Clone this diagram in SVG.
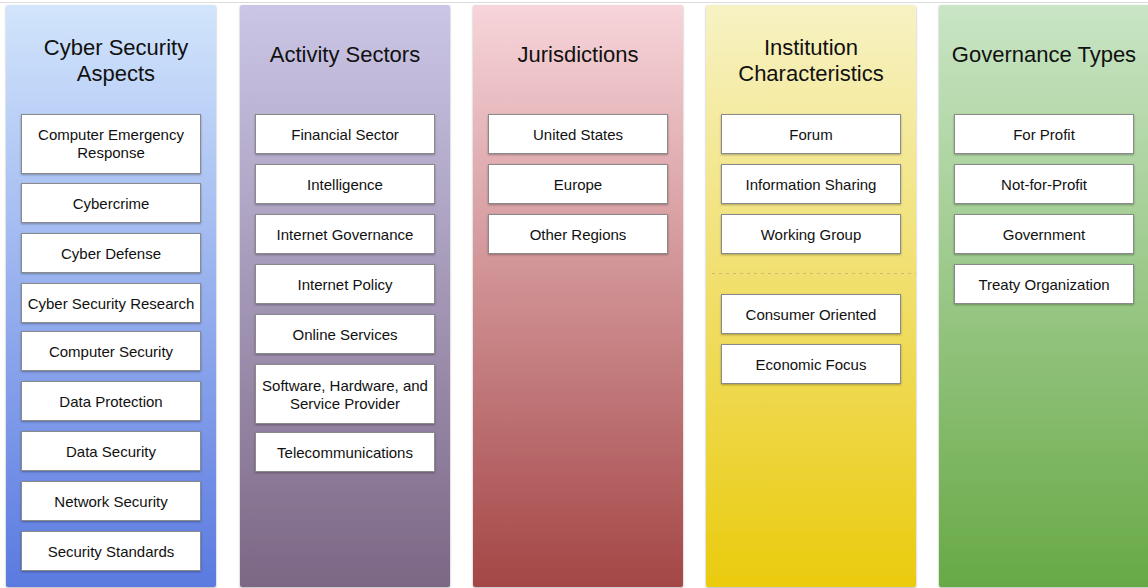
<svg xmlns="http://www.w3.org/2000/svg" width="1148" height="588" viewBox="0 0 1148 588">
  <defs>
    <linearGradient id="gBlue" x1="0" y1="0" x2="0" y2="1">
      <stop offset="0" stop-color="#d2e5fc"/>
      <stop offset="1" stop-color="#5a7ae0"/>
    </linearGradient>
    <linearGradient id="gPurple" x1="0" y1="0" x2="0" y2="1">
      <stop offset="0" stop-color="#cbc6e6"/>
      <stop offset="1" stop-color="#7c6785"/>
    </linearGradient>
    <linearGradient id="gRed" x1="0" y1="0" x2="0" y2="1">
      <stop offset="0" stop-color="#f7d5da"/>
      <stop offset="1" stop-color="#a44646"/>
    </linearGradient>
    <linearGradient id="gYellow" x1="0" y1="0" x2="0" y2="1">
      <stop offset="0" stop-color="#f7f2c4"/>
      <stop offset="1" stop-color="#eacb0e"/>
    </linearGradient>
    <linearGradient id="gGreen" x1="0" y1="0" x2="0" y2="1">
      <stop offset="0" stop-color="#c9e5c5"/>
      <stop offset="1" stop-color="#68a946"/>
    </linearGradient>
    <filter id="shadow" x="-5%" y="-5%" width="110%" height="120%">
      <feDropShadow dx="0" dy="1" stdDeviation="0.8" flood-color="#000" flood-opacity="0.3"/>
    </filter>
  </defs>
  <style>
    .lane { stroke: none; filter: url(#shadow); }
    .title { font-family: "Liberation Sans", Arial, sans-serif; font-size: 22px; fill: #111; text-anchor: middle; }
    .box { fill: #fff; stroke: #8a8a8a; stroke-width: 1; filter: url(#shadow); }
    .label { font-family: "Liberation Sans", Arial, sans-serif; font-size: 15px; fill: #111; text-anchor: middle; dominant-baseline: central; }
    .divider { stroke: #c9bb78; stroke-width: 1.2; stroke-dasharray: 3 4; fill: none; }
  </style>

  <rect x="0" y="0" width="1148" height="588" fill="#fff"/>
  <line x1="0" y1="2.5" x2="1148" y2="2.5" stroke="#dcdcdc" stroke-width="1"/>

  <!-- Lane: Cyber Security Aspects -->
  <g id="lane-cyber-security-aspects">
    <rect class="lane" x="6" y="5" width="210" height="582" rx="2" fill="url(#gBlue)"/>
    <text class="title" x="116" y="55">Cyber Security</text>
    <text class="title" x="116" y="81">Aspects</text>
  </g>
  <g id="node-computer-emergency-response">
    <rect class="box" x="21.5" y="114.5" width="179" height="59"/>
    <text class="label" x="111" y="134">Computer Emergency</text>
    <text class="label" x="111" y="152">Response</text>
  </g>
  <g id="node-cybercrime">
    <rect class="box" x="21.5" y="183.5" width="179" height="39"/>
    <text class="label" x="111" y="203">Cybercrime</text>
  </g>
  <g id="node-cyber-defense">
    <rect class="box" x="21.5" y="233.5" width="179" height="39"/>
    <text class="label" x="111" y="253">Cyber Defense</text>
  </g>
  <g id="node-cyber-security-research">
    <rect class="box" x="21.5" y="283.5" width="179" height="39"/>
    <text class="label" x="111" y="303">Cyber Security Research</text>
  </g>
  <g id="node-computer-security">
    <rect class="box" x="21.5" y="331.5" width="179" height="39"/>
    <text class="label" x="111" y="351">Computer Security</text>
  </g>
  <g id="node-data-protection">
    <rect class="box" x="21.5" y="381.5" width="179" height="39"/>
    <text class="label" x="111" y="401">Data Protection</text>
  </g>
  <g id="node-data-security">
    <rect class="box" x="21.5" y="431.5" width="179" height="39"/>
    <text class="label" x="111" y="451">Data Security</text>
  </g>
  <g id="node-network-security">
    <rect class="box" x="21.5" y="481.5" width="179" height="39"/>
    <text class="label" x="111" y="501">Network Security</text>
  </g>
  <g id="node-security-standards">
    <rect class="box" x="21.5" y="531.5" width="179" height="39"/>
    <text class="label" x="111" y="551">Security Standards</text>
  </g>

  <!-- Lane: Activity Sectors -->
  <g id="lane-activity-sectors">
    <rect class="lane" x="240" y="5" width="210" height="582" rx="2" fill="url(#gPurple)"/>
    <text class="title" x="345" y="62">Activity Sectors</text>
  </g>
  <g id="node-financial-sector">
    <rect class="box" x="255.5" y="114.5" width="179" height="39"/>
    <text class="label" x="345" y="134">Financial Sector</text>
  </g>
  <g id="node-intelligence">
    <rect class="box" x="255.5" y="164.5" width="179" height="39"/>
    <text class="label" x="345" y="184">Intelligence</text>
  </g>
  <g id="node-internet-governance">
    <rect class="box" x="255.5" y="214.5" width="179" height="39"/>
    <text class="label" x="345" y="234">Internet Governance</text>
  </g>
  <g id="node-internet-policy">
    <rect class="box" x="255.5" y="264.5" width="179" height="39"/>
    <text class="label" x="345" y="284">Internet Policy</text>
  </g>
  <g id="node-online-services">
    <rect class="box" x="255.5" y="314.5" width="179" height="39"/>
    <text class="label" x="345" y="334">Online Services</text>
  </g>
  <g id="node-software-hardware-service">
    <rect class="box" x="255.5" y="364.5" width="179" height="59"/>
    <text class="label" x="345" y="385">Software, Hardware, and</text>
    <text class="label" x="345" y="403">Service Provider</text>
  </g>
  <g id="node-telecommunications">
    <rect class="box" x="255.5" y="432.5" width="179" height="39"/>
    <text class="label" x="345" y="452">Telecommunications</text>
  </g>

  <!-- Lane: Jurisdictions -->
  <g id="lane-jurisdictions">
    <rect class="lane" x="473" y="5" width="210" height="582" rx="2" fill="url(#gRed)"/>
    <text class="title" x="578" y="62">Jurisdictions</text>
  </g>
  <g id="node-united-states">
    <rect class="box" x="488.5" y="114.5" width="179" height="39"/>
    <text class="label" x="578" y="134">United States</text>
  </g>
  <g id="node-europe">
    <rect class="box" x="488.5" y="164.5" width="179" height="39"/>
    <text class="label" x="578" y="184">Europe</text>
  </g>
  <g id="node-other-regions">
    <rect class="box" x="488.5" y="214.5" width="179" height="39"/>
    <text class="label" x="578" y="234">Other Regions</text>
  </g>

  <!-- Lane: Institution Characteristics -->
  <g id="lane-institution-characteristics">
    <rect class="lane" x="706" y="5" width="210" height="582" rx="2" fill="url(#gYellow)"/>
    <text class="title" x="811" y="55">Institution</text>
    <text class="title" x="811" y="81">Characteristics</text>
    <line class="divider" x1="712" y1="273.5" x2="916" y2="273.5"/>
  </g>
  <g id="node-forum">
    <rect class="box" x="721.5" y="114.5" width="179" height="39"/>
    <text class="label" x="811" y="134">Forum</text>
  </g>
  <g id="node-information-sharing">
    <rect class="box" x="721.5" y="164.5" width="179" height="39"/>
    <text class="label" x="811" y="184">Information Sharing</text>
  </g>
  <g id="node-working-group">
    <rect class="box" x="721.5" y="214.5" width="179" height="39"/>
    <text class="label" x="811" y="234">Working Group</text>
  </g>
  <g id="node-consumer-oriented">
    <rect class="box" x="721.5" y="294.5" width="179" height="39"/>
    <text class="label" x="811" y="314">Consumer Oriented</text>
  </g>
  <g id="node-economic-focus">
    <rect class="box" x="721.5" y="344.5" width="179" height="39"/>
    <text class="label" x="811" y="364">Economic Focus</text>
  </g>

  <!-- Lane: Governance Types -->
  <g id="lane-governance-types">
    <rect class="lane" x="939" y="5" width="212" height="582" rx="2" fill="url(#gGreen)"/>
    <text class="title" x="1044" y="62">Governance Types</text>
  </g>
  <g id="node-for-profit">
    <rect class="box" x="954.5" y="114.5" width="179" height="39"/>
    <text class="label" x="1044" y="134">For Profit</text>
  </g>
  <g id="node-not-for-profit">
    <rect class="box" x="954.5" y="164.5" width="179" height="39"/>
    <text class="label" x="1044" y="184">Not-for-Profit</text>
  </g>
  <g id="node-government">
    <rect class="box" x="954.5" y="214.5" width="179" height="39"/>
    <text class="label" x="1044" y="234">Government</text>
  </g>
  <g id="node-treaty-organization">
    <rect class="box" x="954.5" y="264.5" width="179" height="39"/>
    <text class="label" x="1044" y="284">Treaty Organization</text>
  </g>

  <!-- No connectors in this layout -->
  <g id="connectors"/>
</svg>
